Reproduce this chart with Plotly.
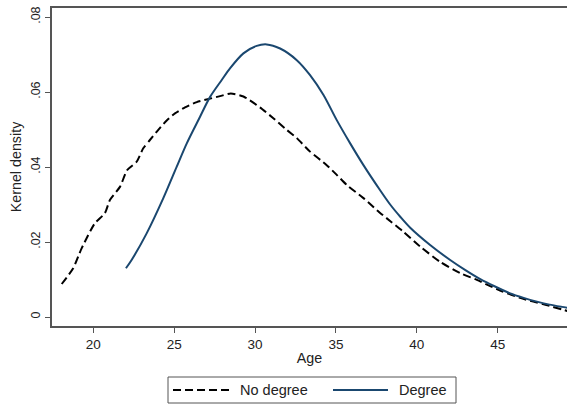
import plotly.graph_objects as go

# ---- data ----
age_nodeg = [18.05, 18.76, 19.28, 20.1, 20.72, 21.03, 21.65, 22.1, 22.68, 23.09, 23.5, 24.02,
             24.54, 25.05, 25.67, 26.4, 27.0, 27.84, 28.5, 29.28, 30.3, 31.13, 31.96, 32.58,
             33.4, 34.43, 35.05, 35.67, 36.7, 37.53, 38.4, 39.15, 40.2, 41.44, 42.68, 43.71,
             44.5, 45.3, 46.38, 47.2, 48.0, 48.97, 49.4]
dens_nodeg = [0.0088, 0.0130, 0.0183, 0.0250, 0.0277, 0.0312, 0.0347, 0.0392, 0.0414, 0.0450,
              0.0472, 0.0499, 0.0524, 0.0543, 0.0559, 0.0573, 0.0580, 0.0589, 0.0596, 0.0588,
              0.0559, 0.0530, 0.0499, 0.0477, 0.0441, 0.0405, 0.0379, 0.0352, 0.0317, 0.0285,
              0.0254, 0.0228, 0.0188, 0.0147, 0.0117, 0.0099, 0.0083, 0.0068, 0.0051, 0.0041,
              0.0032, 0.0020, 0.0015]

age_deg = [22.02, 22.37, 23.3, 24.33, 25.16, 25.78, 26.6, 27.22, 27.94, 28.45, 29.28, 30.1,
           30.72, 31.55, 32.58, 33.4, 34.23, 35.05, 35.88, 36.7, 37.73, 38.35, 39.0,
           39.59, 40.82, 42.06, 43.0, 43.92, 44.8, 45.77, 46.6, 47.42, 48.2, 48.97, 49.4]
dens_deg = [0.0130, 0.0152, 0.0223, 0.0317, 0.0401, 0.0463, 0.0534, 0.0587, 0.0632, 0.0663,
            0.0703, 0.0723, 0.0727, 0.0716, 0.0685, 0.0645, 0.0592, 0.0525, 0.0463, 0.0405,
            0.0338, 0.0300, 0.0266, 0.0238, 0.0192, 0.0152, 0.0125, 0.0101, 0.0082,
            0.0063, 0.0051, 0.0041, 0.0033, 0.0027, 0.0024]

x_ticks = [20, 25, 30, 35, 40, 45]
y_ticks = [0, 0.02, 0.04, 0.06, 0.08]
y_ticklabels = ["0", ".02", ".04", ".06", ".08"]
series_names = ["No degree", "Degree"]

BLACK = "#000000"
BLUE = "#1a476f"
AXIS = "#555555"
FONT = "Liberation Sans, Arial, sans-serif"

fig = go.Figure()
fig.add_trace(go.Scatter(x=age_nodeg, y=dens_nodeg, mode="lines", name=series_names[0],
                         line=dict(color=BLACK, width=2, dash="8px,4px", shape="spline", smoothing=0.6),
                         showlegend=False))
fig.add_trace(go.Scatter(x=age_deg, y=dens_deg, mode="lines", name=series_names[1],
                         line=dict(color=BLUE, width=2, shape="spline", smoothing=0.8),
                         showlegend=False))

# plot area in pixels: x 52..567, y 8..326
L, R, T, B = 52, 567, 8, 326
W, H = 567, 407
def px(xp):
    return (xp - L) / (R - L)
def py(yp):
    return (B - yp) / (B - T)

shapes = [
    dict(type="rect", xref="paper", yref="paper", x0=px(168), x1=px(456), y0=py(403), y1=py(377),
         line=dict(color=AXIS, width=1), fillcolor="white"),
    dict(type="line", xref="paper", yref="paper", x0=px(173), x1=px(230), y0=py(390), y1=py(390),
         line=dict(color=BLACK, width=2, dash="8px,4px")),
    dict(type="line", xref="paper", yref="paper", x0=px(333), x1=px(388), y0=py(390), y1=py(390),
         line=dict(color=BLUE, width=2)),
]
annotations = [
    dict(xref="paper", yref="paper", x=px(238), y=py(390), text=series_names[0], showarrow=False,
         xanchor="left", yanchor="middle", font=dict(size=14.5, color="#222", family=FONT)),
    dict(xref="paper", yref="paper", x=px(397), y=py(390), text=series_names[1], showarrow=False,
         xanchor="left", yanchor="middle", font=dict(size=14.5, color="#222", family=FONT)),
]

fig.update_layout(
    width=W, height=H,
    margin=dict(l=L, r=W - R, t=T, b=H - B, pad=0),
    paper_bgcolor="white", plot_bgcolor="white",
    font=dict(family=FONT, size=13, color="#222"),
    shapes=shapes, annotations=annotations,
    showlegend=False,
)
fig.update_xaxes(range=[17.45, 49.28], tickvals=x_ticks, ticks="outside", ticklen=5,
                 tickcolor=AXIS, showline=True, linecolor=AXIS, linewidth=1.5, mirror=True,
                 showgrid=False, zeroline=False, tickfont=dict(size=13.5),
                 title=dict(text="Age", standoff=2, font=dict(size=14.3)))
fig.update_yaxes(range=[-0.0024, 0.0824], tickvals=y_ticks, ticktext=y_ticklabels,
                 tickangle=-90, ticks="outside", ticklen=5, tickcolor=AXIS,
                 showline=True, linecolor=AXIS, linewidth=1.5, mirror=False,
                 showgrid=False, zeroline=False, tickfont=dict(size=12.5),
                 title=dict(text="Kernel density", standoff=4, font=dict(size=14.3)))

fig.write_html("out.html", config={"displayModeBar": False},
               post_script="document.body.style.margin='0';document.body.style.overflow='hidden';")
